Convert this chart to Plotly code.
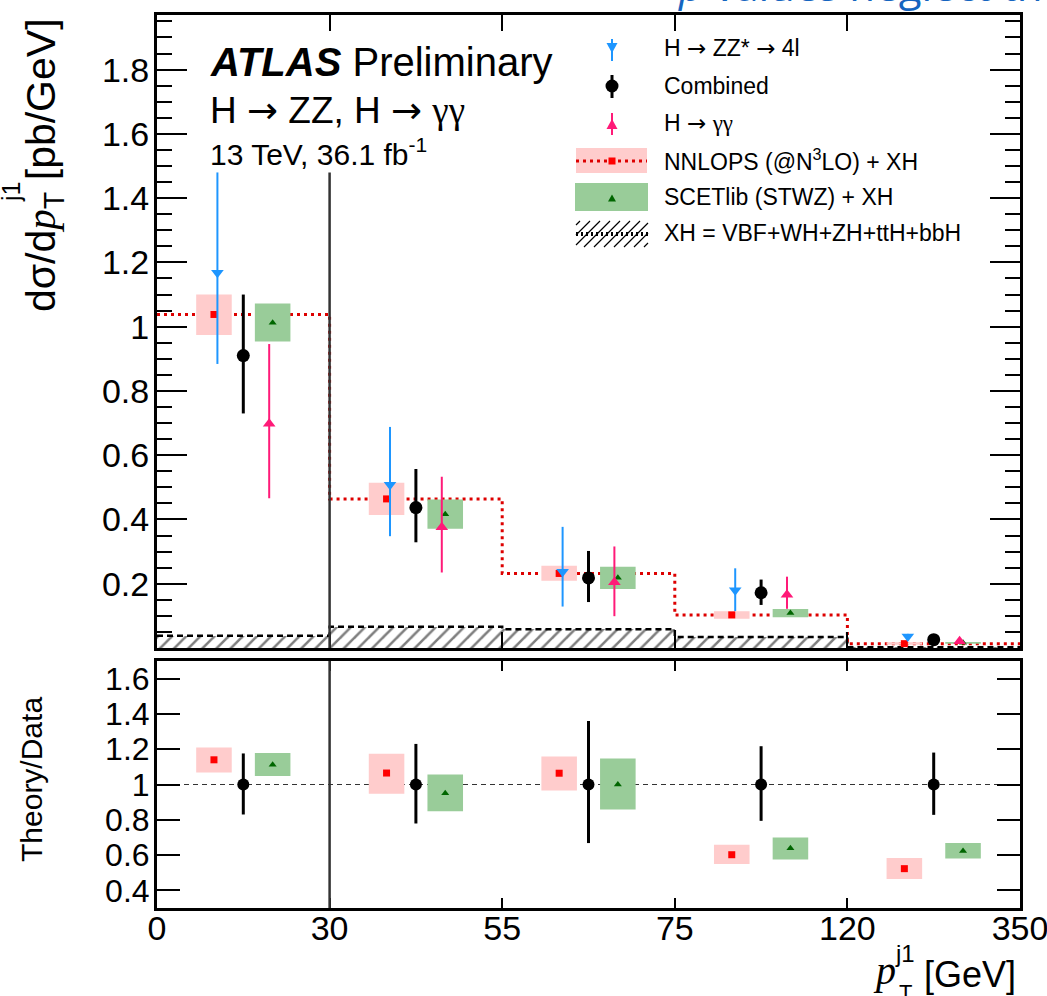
import plotly.graph_objects as go

# ---------------- data ----------------
bin_edge_labels = ["0", "30", "55", "75", "120", "350"]

zz_val = [1.168, 0.508, 0.237, 0.180, 0.036]
zz_hi = [1.480, 0.688, 0.377, 0.248, 0.044]
zz_lo = [0.884, 0.348, 0.129, 0.115, 0.028]

comb_val = [0.910, 0.437, 0.218, 0.172, 0.026]
comb_hi = [1.100, 0.557, 0.302, 0.213, 0.032]
comb_lo = [0.730, 0.329, 0.143, 0.134, 0.020]

gg_val = [0.698, 0.376, 0.205, 0.166, 0.021]
gg_hi = [0.946, 0.533, 0.316, 0.222, 0.026]
gg_lo = [0.466, 0.235, 0.099, 0.122, 0.016]

nnlops_val = [1.038, 0.464, 0.232, 0.103, 0.0135]
nnlops_hi = [1.100, 0.514, 0.256, 0.114, 0.018]
nnlops_lo = [0.974, 0.414, 0.209, 0.091, 0.010]

scet_val = [1.012, 0.416, 0.219, 0.109, 0.016]
scet_hi = [1.072, 0.462, 0.253, 0.121, 0.019]
scet_lo = [0.954, 0.371, 0.184, 0.096, 0.013]

xh_val = [0.038, 0.066, 0.058, 0.034, 0.002]

ratio_comb_val = [1.0, 1.0, 1.0, 1.0, 1.0]
ratio_comb_hi = [1.176, 1.230, 1.360, 1.217, 1.181]
ratio_comb_lo = [0.830, 0.779, 0.668, 0.794, 0.828]

ratio_nnlops_val = [1.140, 1.065, 1.064, 0.602, 0.523]
ratio_nnlops_hi = [1.210, 1.174, 1.158, 0.658, 0.583]
ratio_nnlops_lo = [1.068, 0.947, 0.966, 0.549, 0.464]

ratio_scet_val = [1.112, 0.951, 1.000, 0.638, 0.623]
ratio_scet_hi = [1.178, 1.057, 1.147, 0.700, 0.668]
ratio_scet_lo = [1.048, 0.849, 0.858, 0.575, 0.581]

top_tick_vals = [0.2, 0.4, 0.6, 0.8, 1.0, 1.2, 1.4, 1.6, 1.8]
top_tick_text = ["0.2", "0.4", "0.6", "0.8", "1", "1.2", "1.4", "1.6", "1.8"]
ratio_tick_vals = [0.4, 0.6, 0.8, 1.0, 1.2, 1.4, 1.6]
ratio_tick_text = ["0.4", "0.6", "0.8", "1", "1.2", "1.4", "1.6"]

# ---------------- style ----------------
FONT = "Liberation Sans, Arial, Helvetica, sans-serif"
SERIF = "Liberation Serif, Times New Roman, serif"
ARROW = "<span style=\"font-family:DejaVu Sans\">\u2192</span>"
GAMMA2 = "<span style=\"font-family:Liberation Serif\">\u03b3\u03b3</span>"
BLUE = "#1E96FF"
PINK = "#FF1A78"
RED = "#FF0000"
RED_BAND = "#FFCCCC"
GREEN_BAND = "#99CC99"
DGREEN = "#006600"

W, H = 1047, 996
L, R, T, B = 157, 1020, 15, 908
TOP_BOTTOM_PX = 648
RAT_TOP_PX = 661

OFF = {"nnlops": -0.17, "zz": -0.15, "comb": 0.0, "gg": 0.15, "scet": 0.17}
HALF = 0.103

nb = len(comb_val)
centers = [i + 0.5 for i in range(nb)]
edges = list(range(nb + 1))


def xs(key):
    return [c + OFF[key] for c in centers]


def band(key, lo, hi):
    X, Y = [], []
    for c, a, b in zip(xs(key), lo, hi):
        X += [c - HALF, c + HALF, c + HALF, c - HALF, c - HALF, None]
        Y += [a, a, b, b, a, None]
    return X, Y


def step(vals):
    return edges, vals + [vals[-1]]


fig = go.Figure()

# hatched XH contribution
fig.add_trace(go.Bar(
    x=centers, y=xh_val, width=1.0, xaxis="x", yaxis="y",
    marker=dict(color="white", line=dict(width=0),
                pattern=dict(shape="/", fgcolor="black", bgcolor="white", size=10, solidity=0.25)),
    showlegend=False, hoverinfo="skip"))
sx, sy = step(xh_val)
fig.add_trace(go.Scatter(x=sx, y=sy, mode="lines", line=dict(shape="hv", color="black", width=2.5, dash="6px,4px"),
                         xaxis="x", yaxis="y", showlegend=False, hoverinfo="skip"))

# NNLOPS dotted histogram
sx, sy = step(nnlops_val)
fig.add_trace(go.Scatter(x=sx, y=sy, mode="lines", line=dict(shape="hv", color="#DD0000", width=3, dash="3px,4px"),
                         xaxis="x", yaxis="y", showlegend=False, hoverinfo="skip"))

# theory bands
for key, lo, hi, col, ax in [("nnlops", nnlops_lo, nnlops_hi, RED_BAND, "y"),
                             ("scet", scet_lo, scet_hi, GREEN_BAND, "y"),
                             ("nnlops", ratio_nnlops_lo, ratio_nnlops_hi, RED_BAND, "y2"),
                             ("scet", ratio_scet_lo, ratio_scet_hi, GREEN_BAND, "y2")]:
    bx, by = band(key, lo, hi)
    fig.add_trace(go.Scatter(x=bx, y=by, mode="lines", fill="toself", fillcolor=col, line=dict(width=0, color=col),
                             xaxis="x" if ax == "y" else "x2", yaxis=ax, showlegend=False, hoverinfo="skip"))

# theory markers
for key, vals, ax, sym, col, size in [("nnlops", nnlops_val, "y", "square", RED, 7),
                                      ("scet", scet_val, "y", "triangle-up", DGREEN, 7),
                                      ("nnlops", ratio_nnlops_val, "y2", "square", RED, 7),
                                      ("scet", ratio_scet_val, "y2", "triangle-up", DGREEN, 7)]:
    fig.add_trace(go.Scatter(x=xs(key), y=vals, mode="markers", marker=dict(symbol=sym, color=col, size=size),
                             xaxis="x" if ax == "y" else "x2", yaxis=ax, showlegend=False, hoverinfo="skip"))


def meas(key, vals, hi, lo, ax, sym, col, size, thick):
    fig.add_trace(go.Scatter(
        x=xs(key), y=vals, mode="markers",
        marker=dict(symbol=sym, color=col, size=size, line=dict(width=0)),
        error_y=dict(type="data", symmetric=False,
                     array=[h - v for h, v in zip(hi, vals)],
                     arrayminus=[v - l for l, v in zip(lo, vals)],
                     color=col, thickness=thick, width=0),
        xaxis="x" if ax == "y" else "x2", yaxis=ax, showlegend=False, hoverinfo="skip"))


meas("zz", zz_val, zz_hi, zz_lo, "y", "triangle-down", BLUE, 11, 2)
meas("gg", gg_val, gg_hi, gg_lo, "y", "triangle-up", PINK, 11, 2)
meas("comb", comb_val, comb_hi, comb_lo, "y", "circle", "black", 13, 3)
meas("comb", ratio_comb_val, ratio_comb_hi, ratio_comb_lo, "y2", "circle", "black", 12, 3)


# ---------------- helpers for pixel placed decorations ----------------
def px(x):
    return (x - L) / (R - L)


def py(y):
    return (B - y) / (B - T)


shapes = []
# separator line at 30 GeV
shapes.append(dict(type="line", xref="x", yref="y", x0=1, x1=1, y0=0, y1=1.48,
                   line=dict(color="#333333", width=2.5), layer="above"))
shapes.append(dict(type="line", xref="x2", yref="y2", x0=1, x1=1, y0=0.3, y1=1.7,
                   line=dict(color="#333333", width=2.5), layer="above"))
# ratio unity line
shapes.append(dict(type="line", xref="x2", yref="y2", x0=0, x1=5, y0=1, y1=1,
                   line=dict(color="#333333", width=1.2, dash="5px,4px"), layer="below"))

# legend symbols
LX = 612


def vline(x, y0, y1, col, w):
    shapes.append(dict(type="line", xref="paper", yref="paper", x0=px(x), x1=px(x), y0=py(y0), y1=py(y1),
                       line=dict(color=col, width=w)))


def tri(x, y, hw, hh, up, col):
    if up:
        pts = [(x - hw, y + hh), (x + hw, y + hh), (x, y - hh)]
    else:
        pts = [(x - hw, y - hh), (x + hw, y - hh), (x, y + hh)]
    p = "M " + " L ".join(f"{px(a):.5f},{py(b):.5f}" for a, b in pts) + " Z"
    shapes.append(dict(type="path", xref="paper", yref="paper", path=p, fillcolor=col, line=dict(width=0)))


def rect(x0, x1, y0, y1, col):
    shapes.append(dict(type="rect", xref="paper", yref="paper", x0=px(x0), x1=px(x1), y0=py(y1), y1=py(y0),
                       fillcolor=col, line=dict(width=0)))


vline(LX, 39, 61, BLUE, 2)
tri(LX, 48, 5.5, 5, False, BLUE)
vline(LX, 75, 98, "black", 3)
shapes.append(dict(type="circle", xref="paper", yref="paper", x0=px(LX - 6.5), x1=px(LX + 6.5),
                   y0=py(86 + 6.5), y1=py(86 - 6.5), fillcolor="black", line=dict(width=0)))
vline(LX, 113, 135, PINK, 2)
tri(LX, 124, 5.5, 5, True, PINK)
rect(576, 647, 148, 173, RED_BAND)
shapes.append(dict(type="line", xref="paper", yref="paper", x0=px(576), x1=px(647), y0=py(161), y1=py(161),
                   line=dict(color="#DD0000", width=3, dash="3px,4px")))
rect(LX - 3.5, LX + 3.5, 157.5, 164.5, RED)
rect(575, 648, 183, 211, GREEN_BAND)
tri(LX, 198, 4, 3.5, True, DGREEN)
# hatch legend box
hx0, hx1, hy0, hy1 = 576, 648, 221, 247
hh = hy1 - hy0
segs = []
s = -hh
while s < hx1:
    t0 = max(0.0, (hx0 - s) / hh)
    t1 = min(1.0, (hx1 - s) / hh)
    if t1 > t0:
        xa, ya = s + hh * t0, hy1 - hh * t0
        xb, yb = s + hh * t1, hy1 - hh * t1
        segs.append(f"M {px(xa):.5f},{py(ya):.5f} L {px(xb):.5f},{py(yb):.5f}")
    s += 10
shapes.append(dict(type="path", xref="paper", yref="paper", path=" ".join(segs), line=dict(color="black", width=1.2)))
shapes.append(dict(type="line", xref="paper", yref="paper", x0=px(hx0), x1=px(hx1), y0=py(234), y1=py(234),
                   line=dict(color="black", width=4, dash="2px,3px")))

annotations = []


def text(x, y, s, size, xanchor="left", yanchor="middle", angle=0, color="black", family=FONT):
    annotations.append(dict(xref="paper", yref="paper", x=px(x), y=py(y), text=s, showarrow=False,
                            xanchor=xanchor, yanchor=yanchor, textangle=angle,
                            font=dict(family=family, size=size, color=color)))


legend_rows = [
    (48, "H " + ARROW + " ZZ* " + ARROW + " 4l"),
    (86, "Combined"),
    (123, "H " + ARROW + " " + GAMMA2),
    (160, "NNLOPS (@N<sup>3</sup>LO) + XH"),
    (197, "SCETlib (STWZ) + XH"),
    (233, "XH = VBF+WH+ZH+ttH+bbH"),
]
for yy, s in legend_rows:
    text(662, yy, s, 23)

text(208, 62, "<b><i>ATLAS</i></b> Preliminary", 40)
text(208, 110, "H " + ARROW + " ZZ, H " + ARROW + " " + GAMMA2, 37)
text(208, 152, "13 TeV, 36.1 fb<sup>-1</sup>", 30)

# y-axis titles
text(44, 16, "d\u03c3/d<span style=\"font-family:Liberation Serif\"><i>p</i></span><sub>T</sub> [pb/GeV]", 41,
     xanchor="center", yanchor="top", angle=-90)
text(11, 192, "j1", 25, xanchor="center", yanchor="middle", angle=-90)
text(31, 780, "Theory/Data", 30, xanchor="center", yanchor="middle", angle=-90)

# x-axis title
text(871, 970, "<i>p</i>", 40, family=SERIF)
text(893, 953, "j1", 24)
text(897, 992, "T", 22)
text(1018, 974, "[GeV]", 36, xanchor="right")

# slide header fragment
text(676, 15, "<i>p</i> values neglect theory uncertainties", 42, yanchor="bottom", color="#1565C0",
     family="Open Sans, sans-serif")

axis_common = dict(showline=True, linewidth=3, linecolor="black", mirror="ticks", ticks="inside",
                   tickcolor="black", showgrid=False, zeroline=False)

fig.update_layout(
    width=W, height=H,
    margin=dict(l=L, r=W - R, t=T, b=H - B, pad=0, autoexpand=False),
    paper_bgcolor="white", plot_bgcolor="white",
    barmode="overlay", bargap=0,
    showlegend=False,
    font=dict(family=FONT, color="black"),
    xaxis=dict(domain=[0, 1], range=[0, 5], anchor="y", tickmode="array", tickvals=edges,
               showticklabels=False, ticklen=16, tickwidth=2, **axis_common),
    yaxis=dict(domain=[(B - TOP_BOTTOM_PX) / (B - T), 1], range=[0, 1.97], anchor="x",
               tickmode="array", tickvals=top_tick_vals, ticktext=top_tick_text,
               ticklen=30, tickwidth=2, tickfont=dict(size=34, family=FONT),
               ticklabelstandoff=-2,
               minor=dict(ticks="inside", ticklen=15, tickwidth=2, tickcolor="black",
                          tickmode="linear", tick0=0, dtick=0.05),
               **axis_common),
    xaxis2=dict(domain=[0, 1], range=[0, 5], anchor="y2", matches="x", tickmode="array", tickvals=edges,
                ticktext=bin_edge_labels, ticklen=10, tickwidth=2, tickfont=dict(size=34, family=FONT),
                ticklabelstandoff=-12, ticklabeloverflow="allow", **axis_common),
    yaxis2=dict(domain=[0, (B - RAT_TOP_PX) / (B - T)], range=[0.3, 1.7], anchor="x2",
                tickmode="array", tickvals=ratio_tick_vals, ticktext=ratio_tick_text,
                ticklen=23, tickwidth=2, tickfont=dict(size=32, family=FONT), ticklabelstandoff=-2,
                **axis_common),
    shapes=shapes,
    annotations=annotations,
)

fig.write_html("out.html", config={"displayModeBar": False},
               post_script="document.body.style.margin='0px';document.body.style.overflow='hidden';")
